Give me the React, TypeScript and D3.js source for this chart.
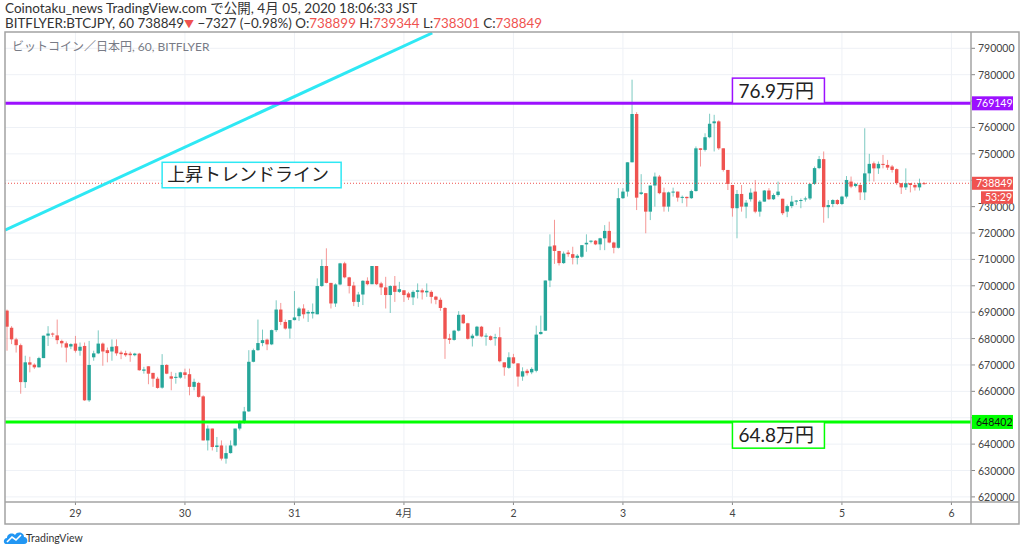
import * as d3 from 'd3';

type Candle = [number, number, number, number]; // open, high, low, close

// hourly BITFLYER BTCJPY candles, grouped by day (JST)
const mar28: Candle[] = [
  [690600, 691000, 675400, 684500], [684100, 684700, 677900, 679700], [679700, 680300, 674700, 677500],
  [677500, 678100, 659100, 663500], [663500, 673500, 661300, 671000], [671000, 673100, 667200, 670100],
  [670100, 670600, 668500, 669100], [669100, 673100, 669100, 672600], [672600, 681100, 672600, 681100],
  [681100, 684700, 677200, 681900], [681900, 682300, 680600, 681600], [681200, 687200, 677900, 679400],
  [679100, 679600, 676600, 678200], [678200, 678900, 671000, 676600], [677000, 678200, 676000, 677900],
];
const mar29: Candle[] = [
  [678100, 681000, 674700, 675400], [675400, 678500, 673500, 676900], [677200, 678500, 656400, 656600],
  [656600, 679100, 656000, 670000], [672900, 675400, 671600, 674400], [674400, 683100, 674100, 678100],
  [678100, 678500, 669700, 675100], [675600, 676600, 671000, 674500], [675100, 679700, 671600, 676900],
  [677100, 679700, 673500, 674400], [674700, 675400, 672200, 674100], [674500, 675400, 673100, 673700],
  [674300, 675000, 671200, 673700], [673700, 674600, 673300, 674300], [674300, 674600, 667800, 668000],
  [667800, 669300, 666700, 668300], [669500, 669500, 662700, 666700], [667000, 667000, 661700, 664800],
  [664800, 665500, 661000, 661300], [661400, 674100, 661000, 670000], [670000, 670300, 666500, 666700],
  [665700, 667400, 660400, 664800], [665100, 667000, 662900, 665500], [665200, 667400, 664800, 667200],
];
const mar30: Candle[] = [
  [667200, 668600, 664800, 666200], [666500, 668600, 658500, 661700], [661700, 664800, 660400, 663600],
  [663200, 663600, 657600, 657900], [658100, 658500, 641400, 641400], [641400, 647100, 637600, 645900],
  [645900, 645900, 637600, 638900], [638900, 642700, 637000, 639500], [639500, 641400, 633800, 634500],
  [634500, 639500, 632600, 636600], [636600, 641400, 636400, 639500], [639500, 645900, 639100, 645900],
  [645900, 649000, 645200, 648400], [648400, 654100, 647700, 652400], [652400, 675600, 652200, 671200],
  [671200, 676200, 671000, 675600], [675600, 687200, 675400, 678300], [678300, 683400, 677100, 679400],
  [679600, 680000, 675600, 677800], [677800, 683400, 677500, 683200], [683200, 694500, 682500, 691000],
  [691000, 693500, 685100, 686300], [686300, 687200, 683400, 683800], [683800, 687000, 680000, 687000],
];
const mar31: Candle[] = [
  [687000, 698000, 686900, 688000], [688500, 692000, 686700, 691400], [691400, 693000, 687600, 689200],
  [689500, 690800, 686300, 690100], [689500, 693300, 687600, 690100], [689200, 702800, 689200, 699900],
  [699900, 710000, 699600, 707500], [707500, 714200, 700900, 701100], [701100, 701100, 691400, 693300],
  [693300, 700900, 692000, 700500], [700500, 708700, 700200, 708500], [708500, 709100, 702800, 703200],
  [703200, 703400, 697100, 699900], [700100, 701500, 692300, 693900], [693900, 697700, 692000, 696700],
  [696700, 702100, 692700, 701900], [701900, 703200, 700200, 700600], [700600, 707500, 700600, 707500],
  [707500, 707500, 700300, 700600], [700900, 701500, 696500, 699400], [699400, 703400, 691400, 696500],
  [696500, 700200, 689700, 699900], [700000, 703700, 693900, 697700], [697700, 701500, 697300, 698700],
];
const apr01: Candle[] = [
  [698300, 698300, 693900, 696500], [697100, 697700, 694600, 695600], [695600, 698300, 692700, 697700],
  [697700, 700900, 695200, 698300], [698300, 699000, 694800, 697500], [697500, 700900, 695800, 698100],
  [697700, 698300, 693300, 695800], [695900, 696200, 693000, 694700], [694700, 695500, 690500, 691600],
  [691600, 691900, 672300, 679900], [680100, 681800, 678000, 679500], [679500, 683300, 679200, 683000],
  [683000, 690400, 682700, 689000], [689000, 689300, 685500, 685800], [685800, 686000, 679600, 679900],
  [680100, 681800, 677000, 681100], [681100, 684800, 680800, 684500], [684500, 684800, 680500, 680800],
  [680800, 682000, 677300, 681100], [680900, 681200, 679200, 679500], [680200, 681800, 677300, 680500],
  [680500, 684300, 671000, 671400], [671000, 671000, 665900, 669100], [668900, 674800, 668500, 672900],
];
const apr02: Candle[] = [
  [672900, 674200, 670400, 670600], [670600, 670600, 661800, 665600], [665600, 669100, 664000, 667600],
  [667800, 668500, 666000, 666900], [667200, 669100, 666500, 668500], [667800, 684900, 667200, 681500],
  [681700, 688700, 681500, 682500], [683000, 702000, 683000, 702000], [702000, 719500, 699500, 714900],
  [715300, 725000, 708300, 713200], [713200, 713200, 707700, 708600], [708600, 713000, 708300, 712200],
  [712600, 713500, 711000, 712000], [712000, 714800, 708100, 710600], [710600, 712000, 708100, 711400],
  [711000, 715400, 710600, 715400], [715700, 719500, 712900, 716300], [716700, 717200, 716100, 717100],
  [717100, 717300, 715400, 715700], [715700, 718200, 713500, 718000], [718000, 723000, 713500, 720800],
  [720800, 724300, 716100, 716400], [716400, 716700, 712300, 714400], [714400, 737000, 714100, 733200],
];
const apr03: Candle[] = [
  [733200, 737000, 732900, 735700], [735700, 746800, 733800, 746800], [746800, 778100, 746800, 765100],
  [765100, 765800, 728700, 733400], [734800, 742300, 734400, 735400], [735100, 735100, 719900, 728100],
  [728100, 738000, 724900, 738000], [738000, 742900, 730000, 741400], [741400, 742000, 734700, 735100],
  [735400, 737200, 728100, 730000], [730000, 735700, 728100, 735400], [735400, 737200, 733800, 735700],
  [735700, 735700, 731900, 733400], [733400, 734200, 731300, 733700], [733700, 733800, 730000, 733200],
  [733200, 736400, 732900, 735900], [735900, 752800, 735700, 752100], [752100, 752100, 745200, 751500],
  [751500, 757800, 750900, 756300], [756300, 765200, 755900, 761400], [761600, 764800, 750900, 762300],
  [762300, 762700, 751500, 752100], [752100, 752100, 743300, 743900], [743900, 743900, 736300, 738600],
];
const apr04: Candle[] = [
  [738200, 738200, 726200, 729400], [729400, 736300, 718000, 734800], [734800, 738200, 728100, 730000],
  [730000, 732500, 725600, 731500], [732800, 736900, 731900, 735300], [735700, 740100, 727500, 728100],
  [728100, 732500, 726200, 731900], [731900, 736300, 731900, 736100], [736100, 737000, 732500, 732800],
  [732800, 735000, 732500, 734400], [734400, 739500, 733800, 735700], [733000, 733000, 726800, 727500],
  [728100, 730800, 726000, 730200], [730200, 734100, 729400, 731900], [731900, 732500, 730600, 732300],
  [732300, 733100, 729400, 732500], [732800, 733800, 731900, 733100], [733100, 738900, 732500, 738600],
  [738600, 745200, 738200, 744600], [744600, 749200, 744200, 748000], [748000, 750900, 723900, 729800],
  [729800, 732500, 725600, 730600], [731000, 732800, 729800, 732500], [732500, 732800, 730600, 731000],
];
const apr05: Candle[] = [
  [731000, 734100, 730600, 733800], [733800, 741600, 733100, 740100], [739500, 741400, 737000, 737600],
  [737800, 738900, 737300, 738600], [738200, 738900, 732500, 735400], [735400, 759700, 732500, 742600],
  [742600, 750000, 739500, 746200], [746400, 747100, 739500, 744500], [744500, 747100, 742400, 746200],
  [746200, 749600, 744500, 745800], [745800, 747700, 743900, 744800], [745200, 745800, 742900, 743900],
  [744200, 744500, 738200, 738900], [738900, 738900, 734800, 737300], [737300, 744500, 736300, 738900],
  [738900, 738900, 735400, 738200], [738200, 738900, 736100, 737300], [737300, 740600, 736100, 738900],
  [738899, 739344, 738301, 738849],
];

const candles: Candle[] = [
  ...mar28, ...mar29, ...mar30, ...mar31, ...apr01, ...apr02, ...apr03, ...apr04, ...apr05,
];

const firstHour = 9; // first candle is 28th 09:00
const dayLabels = ['29', '30', '31', '4月', '2', '3', '4', '5', '6'];
const dayTicks = dayLabels.map((_, i) => 24 - firstHour + i * 24);
const priceTicks = d3.range(620000, 790001, 10000);

const resistance = 769149;
const support = 648402;
const lastClose = 738849;
// trend line anchors: [candle index, price]
const trendLine: [number, number][] = [[-0.44, 721100], [93.2, 795800]];

const W = 1024;
const H = 552;
const paneL = 5, paneR = 971, paneT = 32, paneB = 502, frameR = 1019, frameB = 524;

const UP = '#26a69a';
const DOWN = '#ef5350';
const PURPLE = '#9c10ff';
const GREEN = '#00ff00';
const CYAN = '#2ee8f4';
const FONT = "Lato, 'Noto Sans CJK JP', sans-serif";

const x = d3.scaleLinear().domain([-0.44, 211.29]).range([paneL, paneR]);
const y = d3.scaleLinear().domain([620000, 790000]).range([496.9, 48.3]);

// axis labels hidden behind the coloured price boxes
const boxed = [resistance, lastClose, support];
const visibleTicks = priceTicks.filter(p => boxed.every(b => Math.abs(y(p) - y(b)) > 9));

const App = () => {
  const bodyW = 3.4;
  const trend = d3.line<[number, number]>().x(d => x(d[0])).y(d => y(d[1]))(trendLine) ?? '';

  return (
    <svg width={W} height={H} style={{ position: 'absolute', left: 0, top: 0, background: '#fff' }}
      fontFamily={FONT}>
      <defs>
        <clipPath id="pane">
          <rect x={paneL} y={paneT} width={paneR - paneL} height={paneB - paneT} />
        </clipPath>
      </defs>
      <rect width={W} height={H} fill="#fff" />

      {/* header */}
      <text x={5} y={13} fontSize={13.5} fill="#333">Coinotaku_news TradingView.com で公開, 4月 05, 2020 18:06:33 JST</text>
      <text x={5} y={28} fontSize={13.4} fill="#333">
        BITFLYER:BTCJPY, 60 738849<tspan fill={DOWN} fontSize={10}>▼</tspan> −7327 (−0.98%) O:<tspan fill={DOWN}>738899</tspan> H:<tspan fill={DOWN}>739344</tspan> L:<tspan fill={DOWN}>738301</tspan> C:<tspan fill={DOWN}>738849</tspan>
      </text>

      {/* grid */}
      <g clipPath="url(#pane)">
        {priceTicks.map(p => (
          <line key={p} x1={paneL} x2={paneR} y1={y(p)} y2={y(p)} stroke="#eef1f6" />
        ))}
        {dayTicks.map(d => (
          <line key={d} x1={x(d)} x2={x(d)} y1={paneT} y2={paneB} stroke="#eef1f6" />
        ))}
      </g>

      <text x={12} y={51} fontSize={12} fill="#787b86">ビットコイン／日本円, 60, BITFLYER</text>

      {/* candles */}
      <g clipPath="url(#pane)">
        {candles.map(([o, h, l, c], i) => {
          const col = c >= o ? UP : DOWN;
          const cx = x(i);
          const top = y(Math.max(o, c));
          const bh = Math.max(1, y(Math.min(o, c)) - top);
          return (
            <g key={i}>
              <line x1={cx} x2={cx} y1={y(h)} y2={y(l)} stroke={col} strokeOpacity={0.6} />
              <rect x={cx - bodyW / 2} y={top} width={bodyW} height={bh} fill={col} />
            </g>
          );
        })}

        {/* last price dotted line */}
        <line x1={paneL} x2={paneR} y1={y(lastClose)} y2={y(lastClose)} stroke={DOWN}
          strokeDasharray="1,2" strokeWidth={1} />

        {/* drawings */}
        <path d={trend} stroke={CYAN} strokeWidth={3} fill="none" />
        <line x1={paneL} x2={paneR} y1={y(resistance)} y2={y(resistance)} stroke={PURPLE} strokeWidth={3} />
        <line x1={paneL} x2={paneR} y1={y(support)} y2={y(support)} stroke={GREEN} strokeWidth={3} />

        <rect x={x(159)} y={y(778700)} width={92} height={y(resistance) - y(778700)} fill="#fff"
          stroke={PURPLE} strokeWidth={1.5} />
        <text x={x(159) + 6} y={y(778700) + 20} fontSize={19} fill="#222">76.9万円</text>

        <rect x={x(34)} y={y(746800)} width={179} height={y(737150) - y(746800)} fill="#fff"
          stroke={CYAN} strokeWidth={1.5} />
        <text x={x(34) + 5} y={y(746800) + 19} fontSize={18} fill="#222">上昇トレンドライン</text>

        <rect x={x(159)} y={y(support)} width={92} height={y(638470) - y(support)} fill="#fff"
          stroke={GREEN} strokeWidth={1.5} />
        <text x={x(159) + 6} y={y(support) + 20} fontSize={19} fill="#222">64.8万円</text>
      </g>

      {/* price axis */}
      {priceTicks.map(p => (
        <line key={p} x1={paneR} x2={paneR + 4} y1={y(p)} y2={y(p)} stroke="#888" />
      ))}
      {visibleTicks.map(p => (
        <text key={p} x={paneR + 7} y={y(p) + 4} fontSize={10.5} fill="#444">{p}</text>
      ))}
      <rect x={paneR + 1} y={y(resistance) - 7} width={41} height={14} fill={PURPLE} />
      <text x={paneR + 5} y={y(resistance) + 4} fontSize={10.5} fill="#fff">{resistance}</text>
      <rect x={paneR + 1} y={y(lastClose) - 6.5} width={41} height={13} fill={DOWN} />
      <text x={paneR + 5} y={y(lastClose) + 4} fontSize={10.5} fill="#fff">{lastClose}</text>
      <rect x={paneR + 10} y={y(lastClose) + 8} width={32} height={12.5} fill={DOWN} />
      <text x={paneR + 14} y={y(lastClose) + 18} fontSize={10.5} fill="#fff">53:29</text>
      <rect x={paneR + 1} y={y(support) - 7} width={41} height={14} fill={GREEN} />
      <text x={paneR + 5} y={y(support) + 4} fontSize={10.5} fill="#111">{support}</text>

      {/* time axis */}
      {dayTicks.map((d, i) => (
        <g key={d}>
          <line x1={x(d)} x2={x(d)} y1={paneB} y2={paneB + 3} stroke="#888" />
          <text x={x(d)} y={paneB + 15} fontSize={10.5} fill="#444" textAnchor="middle">{dayLabels[i]}</text>
        </g>
      ))}

      {/* frame */}
      <rect x={paneL} y={paneT} width={frameR - paneL} height={frameB - paneT} fill="none" stroke="#a3a3a3" strokeWidth={1.5} />
      <line x1={paneR} x2={paneR} y1={paneT} y2={frameB} stroke="#a3a3a3" strokeWidth={1.5} />
      <line x1={paneL} x2={frameR} y1={paneB} y2={paneB} stroke="#a3a3a3" strokeWidth={1.5} />

      {/* logo */}
      <g transform="translate(4,530)">
        <path d="M2,14 C-1,14 -1,8 3,8 C3,4 8,2 11,5 C13,1 20,2 20,7 C24,7 25,14 20,14 Z" fill="#2196f3" />
        <path d="M3,12 L8,7 L12,10 L17,5" stroke="#fff" strokeWidth={1.6} fill="none" />
      </g>
      <text x={26} y={542} fontSize={10.5} fill="#333">TradingView</text>
    </svg>
  );
};

export default App;
